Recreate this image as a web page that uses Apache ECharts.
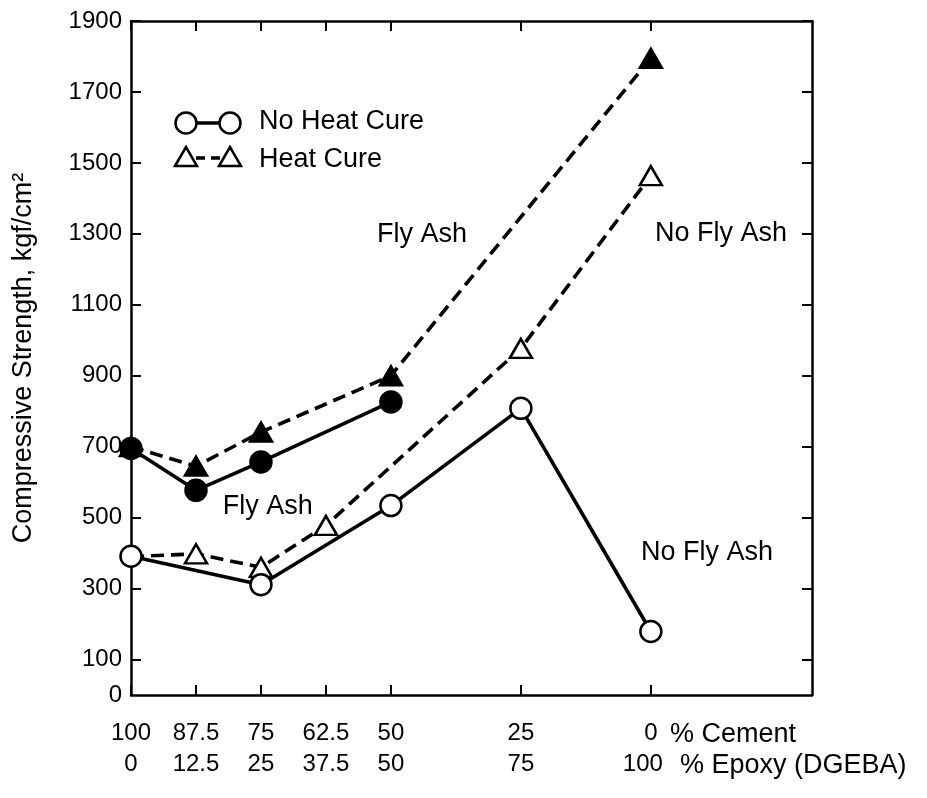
<!DOCTYPE html>
<html><head><meta charset="utf-8">
<script src="https://cdn.jsdelivr.net/npm/echarts@6/dist/echarts.min.js"></script>
<style>html,body{margin:0;padding:0;background:#fff}#c{width:927px;height:798px}</style>
</head><body><div id="c"></div>
<script>
// ---- data ----
const cementTicks = [100, 87.5, 75, 62.5, 50, 25, 0];
const epoxyTicks  = [0, 12.5, 25, 37.5, 50, 75, 100];
const yLabelValues = [0, 100, 300, 500, 700, 900, 1100, 1300, 1500, 1700, 1900];
const yTickValues  = [100, 300, 500, 700, 900, 1100, 1300, 1500, 1700, 1900];

// Fly Ash, no heat cure (filled circles, solid)
const flyAshNoHeatCement   = [100, 87.5, 75, 50];
const flyAshNoHeatStrength = [695, 577, 657, 826];
// Fly Ash, heat cure (filled triangles, dashed)
const flyAshHeatCement   = [100, 87.5, 75, 50, 0];
const flyAshHeatStrength = [700, 645, 741, 900, 1795];
// No Fly Ash, no heat cure (open circles, solid)
const noFlyAshNoHeatCement   = [100, 75, 50, 25, 0];
const noFlyAshNoHeatStrength = [391, 311, 534, 808, 179];
// No Fly Ash, heat cure (open triangles, dashed)
const noFlyAshHeatCement   = [100, 87.5, 75, 62.5, 25, 0];
const noFlyAshHeatStrength = [390, 398, 360, 478, 977, 1464];

// annotations (placed in data coordinates)
const annoText     = ['Fly Ash', 'No Fly Ash', 'Fly Ash', 'No Fly Ash'];
const annoCement   = [44, -13.5, 73.7, -10.8];
const annoStrength = [1298, 1300, 530, 401];

const legendNames = ['No Heat Cure', 'Heat Cure'];
const cementUnit = '% Cement';
const epoxyUnit = '% Epoxy (DGEBA)';
const yTitle = 'Compressive Strength, kgf/cm²';

// ---- chart ----
const FONT = 'Liberation Sans';
const pair = (xs, ys) => xs.map((x, i) => [x, ys[i]]);
const DASH = [13, 7];
const LW = 3.6;

function lineSeries(name, xs, ys, symbol, size, filled, dashed, hideFirst) {
  return {
    type: 'line', name: name,
    data: pair(xs, ys).map((d, i) => (hideFirst && i === 0) ? { value: d, symbol: 'none' } : d),
    symbol: symbol, symbolSize: size, showSymbol: true, silent: true,
    animation: false,
    lineStyle: { color: '#000', width: LW, type: dashed ? DASH : 'solid' },
    itemStyle: { color: filled ? '#000' : '#fff', borderColor: '#000', borderWidth: 2.5, opacity: 1 },
    emphasis: { disabled: true }
  };
}

const axisLineStyle = { color: '#000', width: 2.5 };
const tickStyle = { color: '#000', width: 2 };
const lblFont = { color: '#000', fontFamily: FONT, fontSize: 24 };

const legendGraphics = [
  { type: 'line', shape: { x1: 186, y1: 123, x2: 230, y2: 123 }, style: { stroke: '#000', lineWidth: LW } },
  { type: 'circle', shape: { cx: 186, cy: 123, r: 10.5 }, style: { fill: '#fff', stroke: '#000', lineWidth: 2.5 } },
  { type: 'circle', shape: { cx: 230, cy: 123, r: 10.5 }, style: { fill: '#fff', stroke: '#000', lineWidth: 2.5 } },
  { type: 'text', left: 259, top: 108, style: { text: legendNames[0], fill: '#000', font: '27px "Liberation Sans"' } },
  { type: 'line', shape: { x1: 196, y1: 158, x2: 220, y2: 158 }, style: { stroke: '#000', lineWidth: LW, lineDash: [9, 6] } },
  { type: 'polygon', shape: { points: [[175, 166], [186, 147], [197, 166]] }, style: { fill: '#fff', stroke: '#000', lineWidth: 2.5 } },
  { type: 'polygon', shape: { points: [[219, 166], [230, 147], [241, 166]] }, style: { fill: '#fff', stroke: '#000', lineWidth: 2.5 } },
  { type: 'text', left: 259, top: 146, style: { text: legendNames[1], fill: '#000', font: '27px "Liberation Sans"' } },
  { type: 'text', left: 670, top: 721, style: { text: cementUnit, fill: '#000', font: '27px "Liberation Sans"' } },
  { type: 'text', left: 680, top: 752, style: { text: epoxyUnit, fill: '#000', font: '27px "Liberation Sans"' } }
];

const chart = echarts.init(document.getElementById('c'), null, { renderer: 'canvas' });
chart.setOption({
  backgroundColor: '#fff',
  animation: false,
  grid: { left: 131, top: 21, width: 681, height: 674, outerBoundsMode: 'none', containLabel: false },
  xAxis: [
    {
      type: 'value', position: 'bottom', min: -31, max: 100, inverse: true,
      splitLine: { show: false },
      axisLine: { onZero: false, lineStyle: axisLineStyle },
      axisTick: { inside: true, length: 10, customValues: cementTicks, lineStyle: tickStyle },
      axisLabel: Object.assign({
        customValues: cementTicks, lineHeight: 31, margin: 23,
        formatter: v => {
          const e = epoxyTicks[cementTicks.indexOf(v)];
          return '{a|' + v + '}\n' + (e === 100 ? '{s|' + e + '}' : '{a|' + e + '}');
        },
        rich: {
          a: Object.assign({ lineHeight: 31 }, lblFont),
          s: Object.assign({ lineHeight: 31, padding: [0, 16, 0, 0] }, lblFont)
        }
      }, lblFont)
    },
    {
      type: 'value', position: 'top', min: -31, max: 100, inverse: true,
      splitLine: { show: false },
      axisLine: { onZero: false, lineStyle: axisLineStyle },
      axisTick: { inside: true, length: 10, customValues: cementTicks, lineStyle: tickStyle },
      axisLabel: { show: false }
    }
  ],
  yAxis: [
    {
      type: 'value', position: 'left', min: 0, max: 1900,
      name: yTitle, nameLocation: 'middle', nameGap: 94, nameRotate: 90,
      nameTextStyle: { color: '#000', fontFamily: FONT, fontSize: 27 },
      splitLine: { show: false },
      axisLine: { show: true, onZero: false, lineStyle: axisLineStyle },
      axisTick: { show: true, inside: true, length: 10, customValues: yTickValues, lineStyle: tickStyle },
      axisLabel: Object.assign({ customValues: yLabelValues, margin: 9, formatter: v => String(v) }, lblFont)
    },
    {
      type: 'value', position: 'right', min: 0, max: 1900,
      splitLine: { show: false },
      axisLine: { show: true, onZero: false, lineStyle: axisLineStyle },
      axisTick: { show: true, inside: true, length: 10, customValues: yTickValues, lineStyle: tickStyle },
      axisLabel: { show: false }
    }
  ],
  series: [
    lineSeries('Heat Cure (Fly Ash)', flyAshHeatCement, flyAshHeatStrength, 'triangle', [22, 19], true, true, false),
    lineSeries('No Heat Cure (Fly Ash)', flyAshNoHeatCement, flyAshNoHeatStrength, 'circle', 21, true, false, false),
    lineSeries('Heat Cure (No Fly Ash)', noFlyAshHeatCement, noFlyAshHeatStrength, 'triangle', [22, 19], false, true, true),
    lineSeries('No Heat Cure (No Fly Ash)', noFlyAshNoHeatCement, noFlyAshNoHeatStrength, 'circle', 21, false, false, false)
  ],
  graphic: legendGraphics
});

// annotation texts positioned through the chart's own scales
const annoGraphics = annoText.map((t, i) => {
  const p = chart.convertToPixel({ xAxisIndex: 0, yAxisIndex: 0 }, [annoCement[i], annoStrength[i]]);
  return { type: 'text', x: p[0], y: p[1], silent: true,
    style: { text: t, fill: '#000', font: '27px "Liberation Sans"', align: 'center', verticalAlign: 'middle' } };
});
chart.setOption({ graphic: legendGraphics.concat(annoGraphics) }, { replaceMerge: ['graphic'] });
</script>
</body></html>
